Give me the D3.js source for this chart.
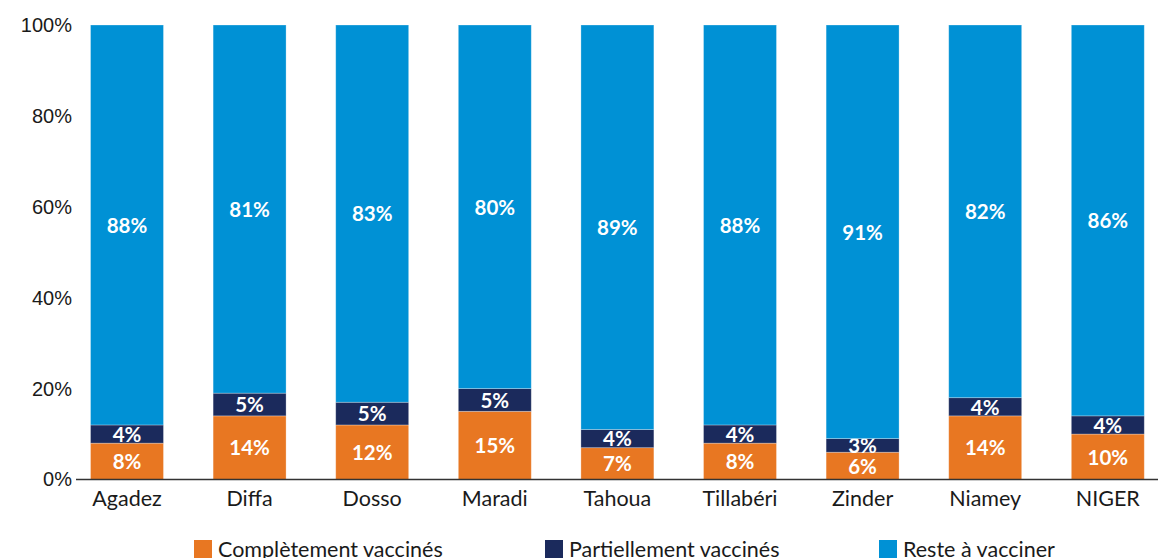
<!DOCTYPE html>
<html>
<head>
<meta charset="utf-8">
<script src="https://cdn.jsdelivr.net/npm/d3@7"></script>
<style>
  body { margin: 0; background: #fff; }
  svg { display: block; font-family: "Source Sans Pro", Lato, "Noto Sans", sans-serif; }
</style>
</head>
<body>
<svg id="chart" width="1158" height="558"></svg>
<script>
// chart data
const regions = ["Agadez", "Diffa", "Dosso", "Maradi", "Tahoua", "Tillabéri", "Zinder", "Niamey", "NIGER"];
const completement = [8, 14, 12, 15, 7, 8, 6, 14, 10];
const partiellement = [4, 5, 5, 5, 4, 4, 3, 4, 4];
const reste = [88, 81, 83, 80, 89, 88, 91, 82, 86];
const yTicks = [0, 20, 40, 60, 80, 100];

const seriesNames = ["Complètement vaccinés", "Partiellement vaccinés", "Reste à vacciner"];
const colors = ["#e87722", "#1b2a5c", "#0091d5"];

const svg = d3.select("#chart");

// rows for stacking
const rows = regions.map((r, i) => ({
    region: r,
    c: completement[i],
    p: partiellement[i],
    r: reste[i]
}));
const stack = d3.stack().keys(["c", "p", "r"]);
const series = stack(rows);

const step = 122.6;
const x = d3.scaleBand()
    .domain(regions)
    .range([127 - step / 2, 127 - step / 2 + step * regions.length])
    .paddingInner(0.405)
    .paddingOuter(0.2025);

const y = d3.scaleLinear().domain([0, 100]).range([479.5, 25]);

// y axis labels
const yAxis = svg.append("g")
    .attr("transform", "translate(76,0)")
    .call(d3.axisLeft(y).tickValues(yTicks).tickFormat(d => d + "%").tickSize(0).tickPadding(4));
yAxis.select(".domain").remove();
yAxis.selectAll("text")
    .attr("font-size", 20)
    .attr("fill", "#1a1a1a")
    .style("font-family", "inherit");

// bars
const groups = svg.append("g")
    .selectAll("g")
    .data(series)
    .enter()
    .append("g")
    .attr("fill", (d, i) => colors[i]);

groups.selectAll("rect")
    .data(d => d)
    .enter()
    .append("rect")
    .attr("x", d => x(d.data.region))
    .attr("y", d => y(d[1]))
    .attr("width", x.bandwidth())
    .attr("height", d => y(d[0]) - y(d[1]))
    .attr("stroke", "rgba(255,255,255,0.35)")
    .attr("stroke-width", 0.8);

// value labels
groups.selectAll("text")
    .data(d => d)
    .enter()
    .append("text")
    .attr("x", d => x(d.data.region) + x.bandwidth() / 2)
    .attr("y", d => (y(d[0]) + y(d[1])) / 2)
    .attr("dy", "0.38em")
    .attr("text-anchor", "middle")
    .attr("fill", "#fff")
    .attr("font-size", 20.5)
    .attr("font-weight", "bold")
    .text(d => (d[1] - d[0]) + "%");

// x axis
const xAxis = svg.append("g")
    .attr("transform", "translate(0,479.5)");
xAxis.append("line")
    .attr("x1", 76)
    .attr("x2", 1158)
    .attr("stroke", "#333")
    .attr("stroke-width", 1.3);
xAxis.selectAll("text")
    .data(regions)
    .enter()
    .append("text")
    .attr("x", d => x(d) + x.bandwidth() / 2)
    .attr("y", 26)
    .attr("text-anchor", "middle")
    .attr("font-size", 21.5)
    .attr("fill", "#1a1a1a")
    .text(d => d);

// legend
const legendX = [194, 545, 879];
const legend = svg.append("g")
    .selectAll("g")
    .data(seriesNames)
    .enter()
    .append("g")
    .attr("transform", (d, i) => "translate(" + legendX[i] + ",540)");
legend.append("rect")
    .attr("width", 18)
    .attr("height", 18)
    .attr("fill", (d, i) => colors[i]);
legend.append("text")
    .attr("x", 24)
    .attr("y", 17)
    .attr("font-size", 21.5)
    .attr("fill", "#1a1a1a")
    .text(d => d);
</script>
</body>
</html>
